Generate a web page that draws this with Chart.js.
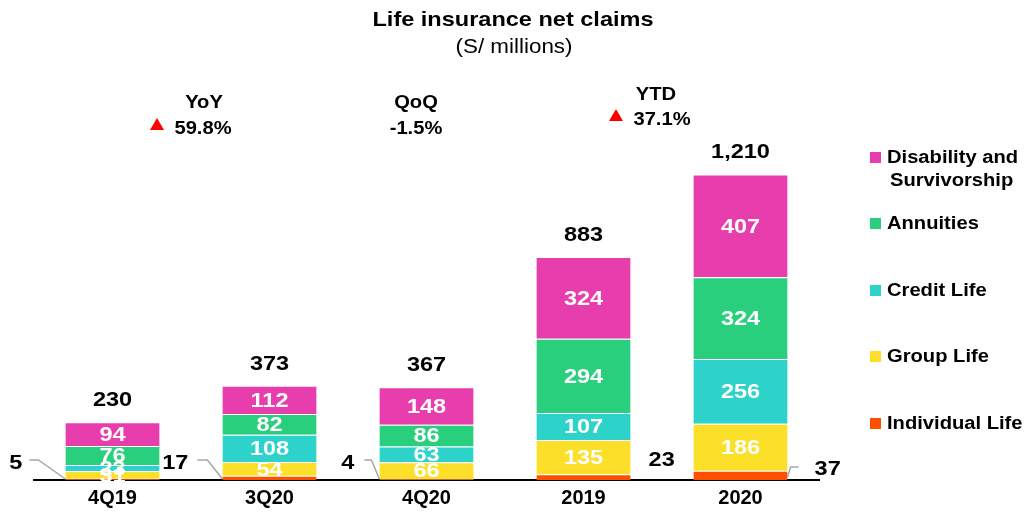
<!DOCTYPE html>
<html>
<head>
<meta charset="utf-8">
<script src="https://cdn.jsdelivr.net/npm/chart.js@4/dist/chart.umd.min.js"></script>
<style>
  html, body { margin: 0; padding: 0; background: #fff; }
  #wrap { width: 1024px; height: 512px; }
</style>
</head>
<body>
<div id="wrap"><canvas id="myChart" width="1024" height="512"></canvas></div>
<script>
// chart values
var periods = ['4Q19', '3Q20', '4Q20', '2019', '2020'];
var individualLife = [5, 17, 4, 23, 37];
var groupLife = [31, 54, 66, 135, 186];
var creditLife = [23, 108, 63, 107, 256];
var annuities = [76, 82, 86, 294, 324];
var disability = [94, 112, 148, 324, 407];
var totals = ['230', '373', '367', '883', '1,210'];

var seriesNames = ['Individual Life', 'Group Life', 'Credit Life', 'Annuities', 'Disability and Survivorship'];
var seriesColors = ['#FF5000', '#FCDF28', '#2DD3CA', '#2ACF7E', '#E83EAD'];

var growth = [
  { label: 'YoY', value: '59.8%', up: true },
  { label: 'QoQ', value: '-1.5%', up: false },
  { label: 'YTD', value: '37.1%', up: true }
];

var FONT = 'Liberation Sans, Arial, sans-serif';
var STRETCH = 1.12; // reference text is a bit wide

// draw text stretched horizontally around its anchor
function txt(ctx, s, x, y, font, align, color) {
  ctx.save();
  ctx.font = font;
  ctx.fillStyle = color || '#000';
  ctx.textAlign = align || 'center';
  ctx.textBaseline = 'middle';
  ctx.translate(x, y);
  ctx.scale(STRETCH, 1);
  ctx.fillText(s, 0, 0);
  ctx.restore();
}

var extras = {
  id: 'extras',
  afterDraw: function(chart) {
    var ctx = chart.ctx;
    var area = chart.chartArea;
    ctx.save();

    // title
    txt(ctx, 'Life insurance net claims', 513, 20, 'bold 21px ' + FONT);
    txt(ctx, '(S/ millions)', 514, 47, '20px ' + FONT);

    // values inside bars
    var vf = 'bold 21px ' + FONT;
    for (var d = 1; d < chart.data.datasets.length; d++) {
      var meta = chart.getDatasetMeta(d);
      meta.data.forEach(function(bar, i) {
        var v = chart.data.datasets[d].data[i];
        txt(ctx, String(v), bar.x, (bar.y + bar.base) / 2 + 1, vf, 'center', '#fff');
      });
    }

    // totals above bars
    var top = chart.getDatasetMeta(chart.data.datasets.length - 1);
    top.data.forEach(function(bar, i) {
      txt(ctx, totals[i], bar.x, bar.y - 22, vf);
    });

    // individual life values outside the bars
    var ind = chart.getDatasetMeta(0);
    var leftTxt = [43, 34, 25];
    var lineA = [36, 25, 15];
    var lineB = [27, 15, 8];
    ctx.strokeStyle = '#a6a6a6';
    ctx.lineWidth = 1.5;
    ind.data.forEach(function(bar, i) {
      var v = String(individualLife[i]);
      var left = bar.x - bar.width / 2;
      var right = bar.x + bar.width / 2;
      if (i < 3) {
        txt(ctx, v, left - leftTxt[i], area.bottom - 17, vf, 'right');
        ctx.beginPath();
        ctx.moveTo(left - lineA[i], area.bottom - 20);
        ctx.lineTo(left - lineB[i], area.bottom - 20);
        ctx.lineTo(left, area.bottom - 1);
        ctx.stroke();
      } else if (i === 3) {
        txt(ctx, v, right + 18, area.bottom - 20, vf, 'left');
      } else {
        txt(ctx, v, right + 27, area.bottom - 11, vf, 'left');
        ctx.beginPath();
        ctx.moveTo(right, area.bottom - 3);
        ctx.lineTo(right + 3, area.bottom - 13);
        ctx.lineTo(right + 11, area.bottom - 13);
        ctx.stroke();
      }
    });

    // growth indicators: [label x, triangle x, value x, label y, value y]
    var gx = [[204, 157, 203, 103, 129], [416, 0, 416, 103, 129], [656, 616, 662, 95, 120]];
    var gf = 'bold 18px ' + FONT;
    growth.forEach(function(g, i) {
      var p = gx[i];
      txt(ctx, g.label, p[0], p[3], gf);
      txt(ctx, g.value, p[2], p[4], gf);
      if (g.up) {
        ctx.fillStyle = '#ff0000';
        ctx.beginPath();
        ctx.moveTo(p[1], p[4] - 11);
        ctx.lineTo(p[1] + 7, p[4] + 1);
        ctx.lineTo(p[1] - 7, p[4] + 1);
        ctx.closePath();
        ctx.fill();
      }
    });

    // legend
    var ly = [157, 223, 290, 356, 423];
    var lf = 'bold 18px ' + FONT;
    for (var s = seriesNames.length - 1; s >= 0; s--) {
      var y = ly[seriesNames.length - 1 - s];
      ctx.fillStyle = seriesColors[s];
      ctx.fillRect(870, y - 5, 11, 11);
      if (s === 4) {
        txt(ctx, 'Disability and', 887, y + 1, lf, 'left');
        txt(ctx, 'Survivorship', 890, y + 24, lf, 'left');
      } else {
        txt(ctx, seriesNames[s], 887, y + 1, lf, 'left');
      }
    }
    ctx.restore();
  }
};

var seriesData = [individualLife, groupLife, creditLife, annuities, disability];
var datasets = seriesData.map(function(arr, i) {
  return {
    label: seriesNames[i],
    data: arr,
    backgroundColor: seriesColors[i],
    borderColor: '#ffffff',
    borderWidth: { top: 1 },
    borderSkipped: 'bottom',
    barPercentage: 0.6,
    categoryPercentage: 1.0
  };
});

const ctx = document.getElementById('myChart').getContext('2d');
const myChart = new Chart(ctx, {
  type: 'bar',
  data: { labels: periods, datasets: datasets },
  options: {
    responsive: false,
    animation: false,
    layout: { padding: { top: 100, left: 34, right: 205, bottom: -4 } },
    plugins: {
      legend: { display: false },
      tooltip: { enabled: false },
      title: { display: false }
    },
    scales: {
      x: {
        stacked: true,
        grid: { display: false, drawTicks: false },
        border: { display: true, color: '#000', width: 2 },
        ticks: { color: '#000', font: { family: FONT, size: 20, weight: 'bold', lineHeight: 1.0 }, padding: 8 }
      },
      y: {
        stacked: true,
        display: false,
        min: 0,
        max: 1505
      }
    }
  },
  plugins: [extras]
});
</script>
</body>
</html>
